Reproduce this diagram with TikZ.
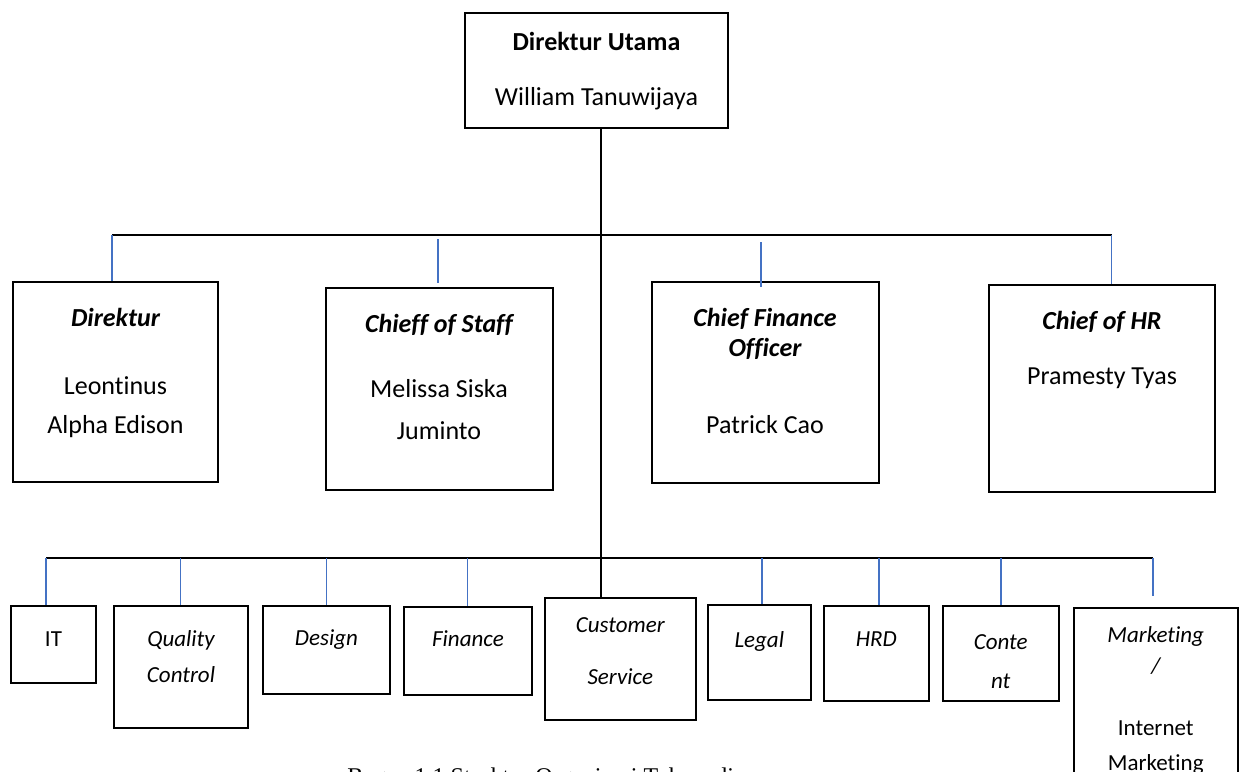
\documentclass[tikz,border=0pt]{standalone}
\usepackage{fontspec}
\setmainfont{Carlito}[Ligatures=NoCommon]
\newfontfamily\capfont{Liberation Serif}
\begin{document}
\begin{tikzpicture}[x=0.5pt,y=-0.5pt,
  orgbox/.style={draw=black,line width=1pt,fill=white,rectangle,inner sep=0pt},
  blk/.style={draw=black,line width=0.9pt},
  blu/.style={draw=linkblue,line width=0.75pt},
  big/.style={anchor=base,inner sep=0pt,font=\fontsize{13pt}{15pt}\selectfont},
  small/.style={anchor=base,inner sep=0pt,font=\fontsize{11.5pt}{14pt}\selectfont\itshape},
  smallup/.style={anchor=base,inner sep=0pt,font=\fontsize{11.5pt}{14pt}\selectfont}]
\definecolor{linkblue}{RGB}{68,114,196}
\useasboundingbox (0,0) rectangle (1239,772);
\clip (0,0) rectangle (1239,772);
% boxes
\node[orgbox,minimum width=131.5pt,minimum height=57.5pt] (top) at (596.5,70.5) {};
\node[orgbox,minimum width=102.5pt,minimum height=100pt] (dir) at (115.5,382.25) {};
\node[orgbox,minimum width=113.25pt,minimum height=101pt] (cos) at (439.25,389) {};
\node[orgbox,minimum width=113.5pt,minimum height=100.25pt] (cfo) at (765.1,382.25) {};
\node[orgbox,minimum width=113pt,minimum height=103.3pt] (hr) at (1102,388.3) {};
\node[orgbox,minimum width=42.85pt,minimum height=38.5pt] (it) at (53.55,644.5) {};
\node[orgbox,minimum width=67pt,minimum height=60.8pt] (qc) at (181,666.8) {};
\node[orgbox,minimum width=63.5pt,minimum height=44pt] (des) at (326.5,649.5) {};
\node[orgbox,minimum width=64.4pt,minimum height=44.1pt] (fin) at (468,650.7) {};
\node[orgbox,minimum width=75.35pt,minimum height=61.15pt] (cs) at (620.35,658.85) {};
\node[orgbox,minimum width=51.7pt,minimum height=47.7pt] (leg) at (759.3,652.3) {};
\node[orgbox,minimum width=52.65pt,minimum height=47.5pt] (hrd) at (876.35,653.5) {};
\node[orgbox,minimum width=58.25pt,minimum height=47.5pt] (con) at (1000.75,653.5) {};
\node[orgbox,minimum width=82.25pt,minimum height=111pt] (mkt) at (1155.75,719) {};
% texts
\node[big,font=\fontsize{13pt}{15pt}\selectfont\bfseries] (t1) at (596.5,50) {Direktur Utama};
\node[big] (t2) at (596.5,105) {William Tanuwijaya};
\node[big,font=\fontsize{13pt}{15pt}\selectfont\bfseries\itshape] (d1) at (115.5,326) {Direktur};
\node[big] (d2) at (115.5,394) {Leontinus};
\node[big] (d3) at (115.5,433) {Alpha Edison};
\node[big,font=\fontsize{13pt}{15pt}\selectfont\bfseries\itshape] (s1) at (439,332) {Chieff of Staff};
\node[big] (s2) at (439,397) {Melissa Siska};
\node[big] (s3) at (439,439) {Juminto};
\node[big,font=\fontsize{13pt}{15pt}\selectfont\bfseries\itshape] (f1) at (765,326) {Chief Finance};
\node[big,font=\fontsize{13pt}{15pt}\selectfont\bfseries\itshape] (f2) at (765,356) {Officer};
\node[big] (f3) at (765,433) {Patrick Cao};
\node[big,font=\fontsize{13pt}{15pt}\selectfont\bfseries\itshape] (h1) at (1102,329) {Chief of HR};
\node[big] (h2) at (1102,384) {Pramesty Tyas};
\node[smallup] (it1) at (53.5,646) {IT};
\node[small] (q1) at (181,646) {Quality};
\node[small] (q2) at (181,682.5) {Control};
\node[small] (de1) at (326.5,645) {Design};
\node[small] (fi1) at (468,646) {Finance};
\node[small] (c1) at (620.3,632) {Customer};
\node[small] (c2) at (620.3,684) {Service};
\node[small] (l1) at (759.3,647) {Legal};
\node[small] (hd1) at (876.3,646) {HRD};
\node[small] (co1) at (1000.7,649) {Conte};
\node[small] (co2) at (1000.7,688) {nt};
\node[small] (m1) at (1155.75,642) {Marketing};
\node[small] (m2) at (1155.75,673) {/};
\node[smallup] (m3) at (1155.75,735) {Internet};
\node[smallup] (m4) at (1155.75,770) {Marketing};
\node[anchor=base west,inner sep=0pt,font=\capfont\fontsize{12pt}{14pt}\selectfont] (cap) at (347,784) {Bagan 1.1 Struktur Organisasi Tokopedia};
% connector coordinates
\coordinate (spine) at (601,0);
\coordinate (a1) at (112,235);
\coordinate (a2) at (438,239);
\coordinate (a3) at (761,242);
\coordinate (a4) at (1111.5,235);
\coordinate (b1) at (46,558);
\coordinate (b2) at (180.6,558);
\coordinate (b3) at (326.5,558);
\coordinate (b4) at (467.6,558);
\coordinate (b6) at (762,558);
\coordinate (b7) at (879,558);
\coordinate (b8) at (1001,558);
\coordinate (b9) at (1153,558);
% black lines
\draw[blk] (top.south -| spine) -- (cs.north -| spine);
\draw[blk] (a1) -- (a4);
\draw[blk] (b1) -- (b9);
% blue connectors
\draw[blu] (a1) -- (a1 |- dir.north);
\draw[blu] (a2) -- ([yshift=2pt]a2 |- cos.north);
\draw[blu] (a3) -- ([yshift=-3pt]a3 |- cfo.north);
\draw[blu] (a4) -- (a4 |- hr.north);
\draw[blu] (b1) -- (b1 |- it.north);
\draw[blu] (b2) -- (b2 |- qc.north);
\draw[blu] (b3) -- (b3 |- des.north);
\draw[blu] (b4) -- (b4 |- fin.north);
\draw[blu] (b6) -- (b6 |- leg.north);
\draw[blu] (b7) -- (b7 |- hrd.north);
\draw[blu] (b8) -- (b8 |- con.north);
\draw[blu] (b9) -- ([yshift=5.5pt]b9 |- mkt.north);
\end{tikzpicture}
\end{document}
